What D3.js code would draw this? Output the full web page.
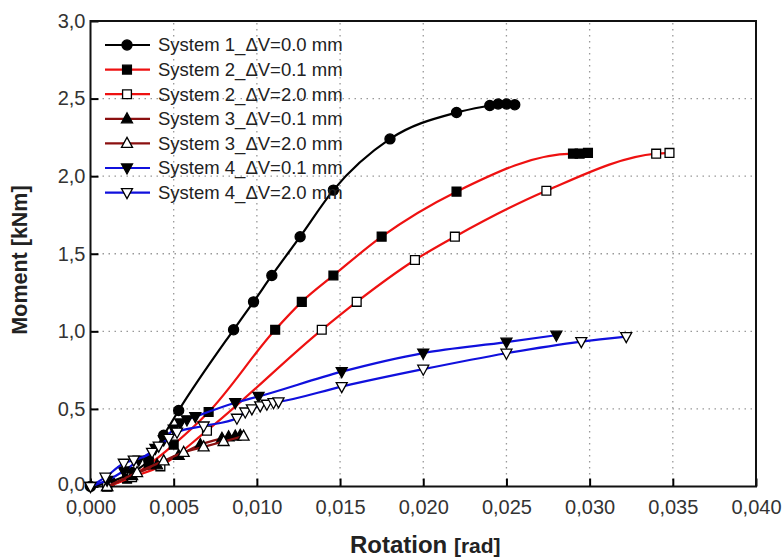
<!DOCTYPE html>
<html>
<head>
<meta charset="utf-8">
<script src="https://cdn.jsdelivr.net/npm/d3@7"></script>
<style>
  body { margin: 0; background: #fff; }
  text { font-family: Arial, "Liberation Sans", sans-serif; }
</style>
</head>
<body>
<div id="chart"></div>
<script>
// values
var xTicks = [0, 0.005, 0.010, 0.015, 0.020, 0.025, 0.030, 0.035, 0.040];
var yTicks = [0, 0.5, 1.0, 1.5, 2.0, 2.5, 3.0];

var s1Rot = [0, 0.0012, 0.0025, 0.0035, 0.0044, 0.0053, 0.0086, 0.0098, 0.0109, 0.0126, 0.0146, 0.0180, 0.0220, 0.0240, 0.0245, 0.0250, 0.0255];
var s1Mom = [0, 0.03, 0.09, 0.17, 0.33, 0.49, 1.01, 1.19, 1.36, 1.61, 1.91, 2.24, 2.41, 2.455, 2.465, 2.465, 2.46];

var s2aRot = [0.0010, 0.0022, 0.0035, 0.0050, 0.0071, 0.0111, 0.0127, 0.0146, 0.0175, 0.0220, 0.0290, 0.0294, 0.0299];
var s2aMom = [0, 0.05, 0.14, 0.27, 0.48, 1.01, 1.19, 1.36, 1.61, 1.90, 2.145, 2.145, 2.15];

var s2bRot = [0.0010, 0.0025, 0.0042, 0.0070, 0.0139, 0.0160, 0.0195, 0.0219, 0.0274, 0.0340, 0.0348];
var s2bMom = [0, 0.06, 0.13, 0.36, 1.01, 1.19, 1.46, 1.61, 1.906, 2.145, 2.15];

var s3aRot = [0.0010, 0.0025, 0.0040, 0.0053, 0.0066, 0.0079, 0.0083, 0.0087, 0.0090];
var s3aMom = [0, 0.07, 0.14, 0.20, 0.27, 0.31, 0.32, 0.325, 0.33];

var s3bRot = [0.0010, 0.0028, 0.0044, 0.0056, 0.0068, 0.0080, 0.0092];
var s3bMom = [0, 0.09, 0.165, 0.22, 0.255, 0.29, 0.325];

var s4aRot = [0, 0.0010, 0.0020, 0.0029, 0.0039, 0.0044, 0.0050, 0.0054, 0.0058, 0.0063, 0.0087, 0.0101, 0.0151, 0.0200, 0.0250, 0.0280];
var s4aMom = [0, 0.04, 0.10, 0.17, 0.245, 0.30, 0.37, 0.41, 0.43, 0.45, 0.54, 0.58, 0.74, 0.86, 0.93, 0.975];

var s4bRot = [0, 0.0009, 0.0020, 0.0026, 0.0037, 0.0041, 0.0047, 0.0052, 0.0068, 0.0088, 0.0093, 0.0097, 0.0102, 0.0106, 0.0110, 0.0113, 0.0151, 0.0200, 0.0250, 0.0295, 0.0322];
var s4bMom = [0, 0.06, 0.15, 0.17, 0.22, 0.26, 0.31, 0.35, 0.39, 0.44, 0.48, 0.50, 0.52, 0.53, 0.54, 0.545, 0.644, 0.756, 0.859, 0.934, 0.966];

var seriesNames = ["System 1_\u0394V=0.0 mm", "System 2_\u0394V=0.1 mm", "System 2_\u0394V=2.0 mm",
                   "System 3_\u0394V=0.1 mm", "System 3_\u0394V=2.0 mm", "System 4_\u0394V=0.1 mm", "System 4_\u0394V=2.0 mm"];
var seriesRot = [s1Rot, s2aRot, s2bRot, s3aRot, s3bRot, s4aRot, s4bRot];
var seriesMom = [s1Mom, s2aMom, s2bMom, s3aMom, s3bMom, s4aMom, s4bMom];
var lineColors = ["#000000", "#ee1111", "#ee1111", "#8b1010", "#8b1010", "#1010dd", "#1010dd"];
var markerShapes = ["circle", "square", "square", "triUp", "triUp", "triDown", "triDown"];
var markerFilled = [true, true, false, true, false, true, false];

var W = 784, H = 559;

var svg = d3.select("#chart").append("svg")
  .attr("width", W).attr("height", H);

svg.append("rect").attr("width", W).attr("height", H).attr("fill", "#fff");

var x = d3.scaleLinear().domain([0, 0.04]).range([90.5, 756]);
var y = d3.scaleLinear().domain([0, 3]).range([486.5, 21]);

// dotted grid
svg.append("g").selectAll("line")
  .data(xTicks.slice(1, -1)).enter().append("line")
  .attr("x1", d => x(d)).attr("x2", d => x(d))
  .attr("y1", y(0)).attr("y2", y(3))
  .attr("stroke", "#999").attr("stroke-width", 1.3).attr("stroke-dasharray", "1.5,4.5");

svg.append("g").selectAll("line")
  .data(yTicks.slice(1, -1)).enter().append("line")
  .attr("y1", d => y(d)).attr("y2", d => y(d))
  .attr("x1", x(0)).attr("x2", x(0.04))
  .attr("stroke", "#999").attr("stroke-width", 1.3).attr("stroke-dasharray", "1.5,4.5");

// axes, ticks pointing inside
var xAxis = d3.axisBottom(x).tickValues(xTicks)
  .tickFormat(d => d3.format(".3f")(d).replace(".", ","))
  .tickSizeInner(-8).tickSizeOuter(0).tickPadding(13);
var gx = svg.append("g").attr("transform", "translate(0," + y(0) + ")").call(xAxis);
gx.select(".domain").remove();
gx.selectAll("line").attr("stroke-width", 2);
gx.selectAll("text").attr("font-size", 20).attr("fill", "#333");

var yAxis = d3.axisLeft(y).tickValues(yTicks)
  .tickFormat(d => d3.format(".1f")(d).replace(".", ","))
  .tickSizeInner(-8).tickSizeOuter(0).tickPadding(5);
var gy = svg.append("g").attr("transform", "translate(" + x(0) + ",0)").call(yAxis);
gy.select(".domain").remove();
gy.selectAll("line").attr("stroke-width", 2);
gy.selectAll("text").attr("font-size", 20).attr("fill", "#333");
gy.selectAll(".tick").filter(d => d === 0).select("text").attr("dy", "0.22em");

// frame
svg.append("rect")
  .attr("x", x(0)).attr("y", y(3))
  .attr("width", x(0.04) - x(0)).attr("height", y(0) - y(3))
  .attr("fill", "none").attr("stroke", "#111").attr("stroke-width", 2);

// marker symbols
function markerPath(shape) {
  if (shape === "circle") return d3.symbol().type(d3.symbolCircle).size(80)();
  if (shape === "square") return d3.symbol().type(d3.symbolSquare).size(78)();
  if (shape === "triUp") return "M0,-6L5.5,4L-5.5,4Z";
  return "M0,6L5.5,-4L-5.5,-4Z";
}

var line = d3.line().curve(d3.curveMonotoneX);

seriesNames.forEach(function (name, i) {
  var pts = seriesRot[i].map((r, k) => [x(r), y(seriesMom[i][k])]);
  svg.append("path")
    .attr("d", line(pts))
    .attr("fill", "none").attr("stroke", lineColors[i]).attr("stroke-width", 2.2);
  svg.append("g").selectAll("path")
    .data(pts).enter().append("path")
    .attr("d", markerPath(markerShapes[i]))
    .attr("transform", p => "translate(" + p[0] + "," + p[1] + ")")
    .attr("fill", markerFilled[i] ? "#000" : "#fff")
    .attr("stroke", "#000").attr("stroke-width", 1.3);
});

// legend
var legend = svg.append("g");
seriesNames.forEach(function (name, i) {
  var ly = 45 + i * 24.6;
  legend.append("line")
    .attr("x1", 105).attr("x2", 150).attr("y1", ly).attr("y2", ly)
    .attr("stroke", lineColors[i]).attr("stroke-width", 2.2);
  legend.append("path")
    .attr("d", markerPath(markerShapes[i]))
    .attr("transform", "translate(127," + ly + ")")
    .attr("fill", markerFilled[i] ? "#000" : "#fff")
    .attr("stroke", "#000").attr("stroke-width", 1.3);
  legend.append("text")
    .attr("x", 158).attr("y", ly).attr("dy", "0.35em")
    .attr("font-size", 18.5).attr("fill", "#222")
    .text(name);
});

// axis titles
var xt = svg.append("text")
  .attr("x", (x(0) + x(0.04)) / 2 + 2).attr("y", 553)
  .attr("text-anchor", "middle").attr("font-weight", "bold").attr("fill", "#222");
xt.append("tspan").attr("font-size", 24).text("Rotation ");
xt.append("tspan").attr("font-size", 21).text("[rad]");

svg.append("text")
  .attr("transform", "translate(27,260) rotate(-90)")
  .attr("text-anchor", "middle").attr("font-weight", "bold").attr("font-size", 21.5).attr("fill", "#222")
  .text("Moment [kNm]");
</script>
</body>
</html>
